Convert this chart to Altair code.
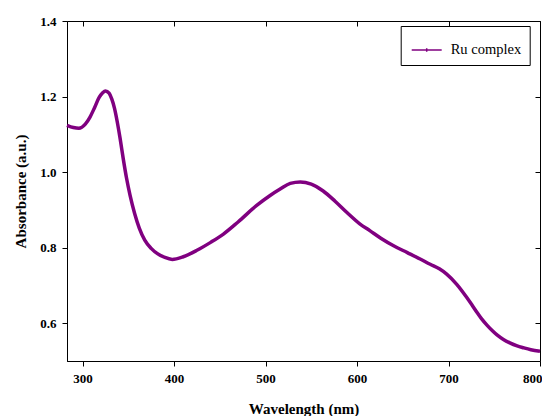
import altair as alt
import pandas as pd

wavelength = [283, 290, 296, 303, 308, 313, 318, 322, 325, 329, 332, 335, 338, 341,
              344.5, 348, 352, 357, 362, 368, 375, 390, 398, 410, 425, 440, 454, 470,
              490, 505, 516, 527, 538, 550, 563, 576, 589, 603, 614, 626, 640, 655,
              669, 680, 690, 698, 709, 720, 726, 731, 736, 742, 748, 753, 760, 767,
              775, 782, 790, 800]
absorbance = [1.124, 1.118, 1.116, 1.127, 1.145, 1.170, 1.197, 1.210, 1.215, 1.209,
              1.193, 1.168, 1.132, 1.090, 1.035, 0.985, 0.938, 0.890, 0.852, 0.820,
              0.798, 0.774, 0.769, 0.776, 0.793, 0.814, 0.836, 0.868, 0.911, 0.938,
              0.955, 0.970, 0.974, 0.968, 0.950, 0.923, 0.893, 0.863, 0.845, 0.825,
              0.805, 0.787, 0.770, 0.756, 0.744, 0.730, 0.703, 0.668, 0.647, 0.629,
              0.612, 0.595, 0.580, 0.569, 0.557, 0.548, 0.540, 0.535, 0.530, 0.526]
series_name = "Ru complex"
x_ticks = [300, 400, 500, 600, 700, 800]
y_ticks = [0.6, 0.8, 1.0, 1.2, 1.4]

df = pd.DataFrame({"wl": wavelength, "abs": absorbance, "series": series_name})

FONT = "Liberation Serif"
xscale = alt.Scale(domain=[283, 800], nice=False, zero=False)
yscale = alt.Scale(domain=[0.5, 1.4], nice=False, zero=False)

bottom_axis = alt.Axis(orient="bottom", values=x_ticks, title="Wavelength (nm)",
                       labelFont=FONT, labelFontWeight="bold", labelFontSize=13,
                       labelColor="black", labelFlush=True, labelFlushOffset=2,
                       labelPadding=6,
                       tickSize=5, tickColor="black", domainColor="black",
                       titleFont=FONT, titleFontWeight="bold", titleFontSize=15,
                       titleColor="black", titleBaseline="alphabetic", titleY=52,
                       grid=False)
left_axis = alt.Axis(orient="left", values=y_ticks, format=".1f", title="Absorbance (a.u.)",
                     labelFont=FONT, labelFontWeight="bold", labelFontSize=13,
                     labelColor="black", labelFlush=False, labelPadding=6,
                     tickSize=5, tickColor="black", domainColor="black",
                     titleFont=FONT, titleFontWeight="bold", titleFontSize=15,
                     titleColor="black", titleBaseline="middle", titleX=-47,
                     grid=False)
top_axis = alt.Axis(orient="top", values=x_ticks, labels=False, title="", domain=False,
                    tickSize=5, tickColor="black", offset=-5, grid=False)
right_axis = alt.Axis(orient="right", values=y_ticks, labels=False, title="", domain=False,
                      tickSize=5, tickColor="black", offset=-5, grid=False)

line = alt.Chart(df).mark_line(strokeWidth=3.5, interpolate="monotone").encode(
    x=alt.X("wl:Q", scale=xscale, axis=bottom_axis),
    y=alt.Y("abs:Q", scale=yscale, axis=left_axis),
    color=alt.Color("series:N", title=None,
                    scale=alt.Scale(range=["#800080"]),
                    legend=alt.Legend(orient="none", legendX=333.7, legendY=5,
                                      strokeColor="black", fillColor="white",
                                      padding=8, symbolOffset=2,
                                      symbolType="M-1,0H1M0,-0.12V0.12",
                                      symbolSize=900, symbolStrokeWidth=1.5,
                                      labelFont=FONT, labelFontSize=14.5,
                                      labelColor="black", labelOffset=8)),
)
mirror = alt.Chart(df).mark_line(opacity=0).encode(
    x=alt.X("wl:Q", scale=xscale, axis=top_axis),
    y=alt.Y("abs:Q", scale=yscale, axis=right_axis),
)

chart = alt.layer(line, mirror).resolve_axis(x="independent", y="independent").properties(
    width=473, height=340,
    autosize=alt.AutoSizeParams(type="none"),
    padding={"left": 59, "top": 13, "right": 2, "bottom": 55},
    background="white",
).configure_view(stroke="black", strokeWidth=1)

chart.save("out.html", embed_options={"renderer": "svg", "actions": False})
